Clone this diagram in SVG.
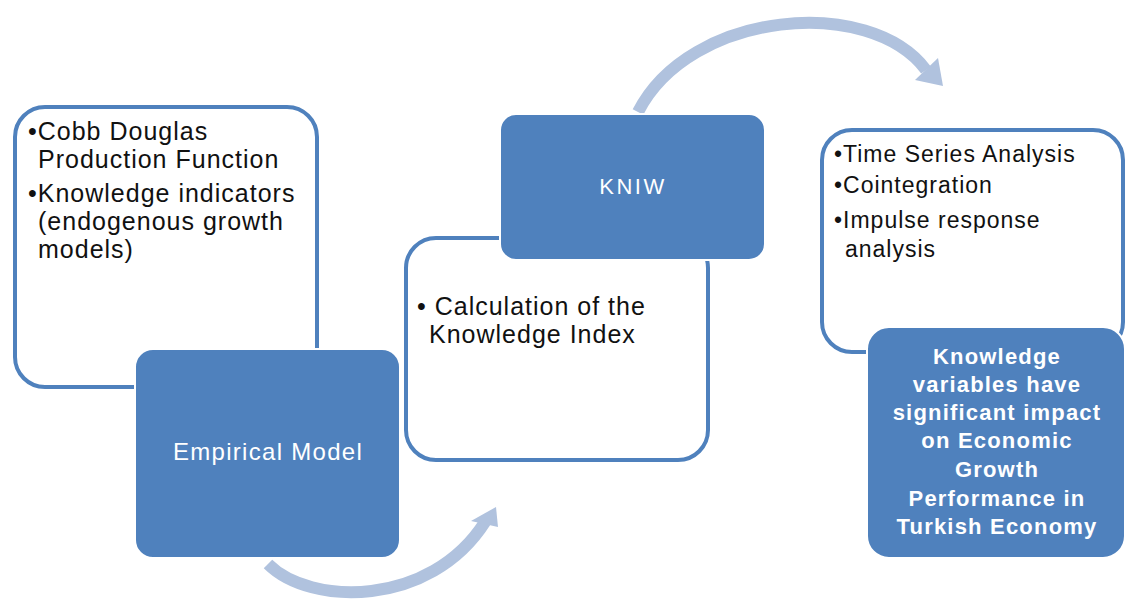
<svg xmlns="http://www.w3.org/2000/svg" width="1126" height="600" viewBox="0 0 1126 600">
  <style>
    .panel { fill: #ffffff; stroke: #4f81bd; stroke-width: 4; }
    .head { fill: #4f81bd; stroke: #ffffff; stroke-width: 2; }
    .flow { fill: none; stroke: #b0c2de; stroke-width: 12; stroke-linecap: butt; }
    .tip { fill: #b0c2de; }
    .txt { font-family: "Liberation Sans", Arial, sans-serif; fill: #111111; font-size: 25px; letter-spacing: 1px; }
    .txt3 { font-family: "Liberation Sans", Arial, sans-serif; fill: #111111; font-size: 23px; letter-spacing: 1px; }
    .lbl { font-family: "Liberation Sans", Arial, sans-serif; fill: #ffffff; text-anchor: middle; }
  </style>
  <rect width="1126" height="600" fill="#ffffff"/>

  <!-- curved flow arrows -->
  <g id="connectors">
    <path class="flow" d="M638,112 C690,10 870,-5 926,70"/>
    <polygon class="tip" points="943,86 915,80 938,58"/>
    <path class="flow" d="M268,564 C310,606 430,608 485,522"/>
    <polygon class="tip" points="496,507 471,521 498,527"/>
  </g>

  <!-- stage 1 -->
  <g id="stage1-details">
    <rect class="panel" x="15" y="107" width="302" height="280" rx="30"/>
    <text class="txt" x="28" y="140">•Cobb Douglas</text>
    <text class="txt" x="38" y="168">Production Function</text>
    <text class="txt" x="28" y="202">•Knowledge indicators</text>
    <text class="txt" x="38" y="230">(endogenous growth</text>
    <text class="txt" x="38" y="258">models)</text>
  </g>
  <g id="stage1-title">
    <rect class="head" x="135" y="349" width="265" height="209" rx="18"/>
    <text class="lbl" x="268" y="460" font-size="24" letter-spacing="1.3">Empirical Model</text>
  </g>

  <!-- stage 2 -->
  <g id="stage2-details">
    <rect class="panel" x="406" y="238" width="302" height="222" rx="30"/>
    <text class="txt" x="417" y="315">• Calculation of the</text>
    <text class="txt" x="429" y="343">Knowledge Index</text>
  </g>
  <g id="stage2-title">
    <rect class="head" x="500" y="114" width="265" height="146" rx="16"/>
    <text class="lbl" x="633" y="194" font-size="22" letter-spacing="2.5">KNIW</text>
  </g>

  <!-- stage 3 -->
  <g id="stage3-details">
    <rect class="panel" x="822" y="130" width="301" height="222" rx="30"/>
    <text class="txt3" x="834" y="162">•Time Series Analysis</text>
    <text class="txt3" x="834" y="193">•Cointegration</text>
    <text class="txt3" x="834" y="228">•Impulse response</text>
    <text class="txt3" x="845" y="257">analysis</text>
  </g>
  <g id="stage3-result">
    <rect class="head" x="867" y="327" width="258" height="231" rx="22"/>
    <g class="lbl" font-size="22" font-weight="bold" letter-spacing="1.2">
      <text x="997" y="364">Knowledge</text>
      <text x="997" y="392">variables have</text>
      <text x="997" y="420">significant impact</text>
      <text x="997" y="448">on Economic</text>
      <text x="997" y="477">Growth</text>
      <text x="997" y="506">Performance in</text>
      <text x="997" y="534">Turkish Economy</text>
    </g>
  </g>
</svg>
